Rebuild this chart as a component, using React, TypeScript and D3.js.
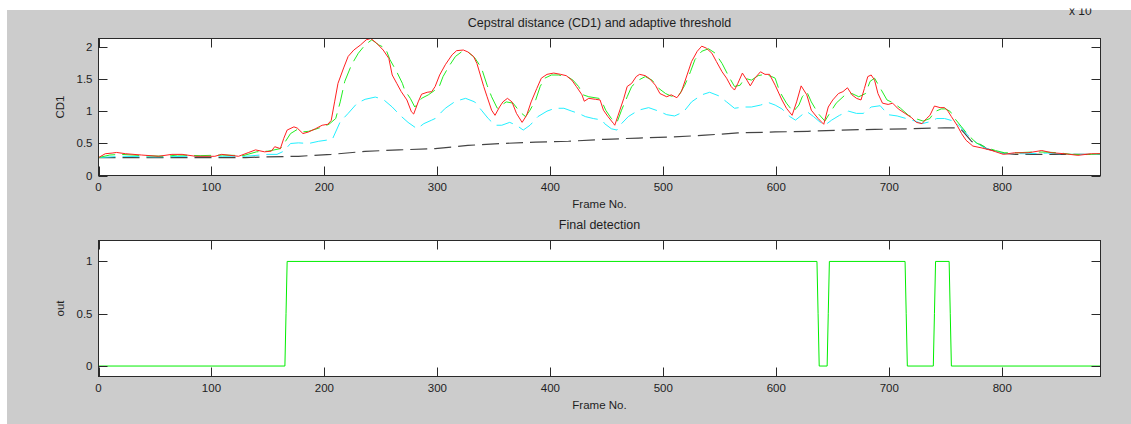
import React from "react";
import * as d3 from "d3";

// Cepstral distance CD1 (red, solid)
const cd1Frames = [0, 6, 12, 16, 24, 38, 53, 65, 74, 86, 103, 109, 124, 133, 139, 147, 153, 156, 161, 164, 167, 173, 176, 181, 186, 192, 198, 203, 206, 209, 212, 217, 221, 226, 232, 237, 241, 246, 252, 257, 260, 264, 268, 273, 277, 279, 283, 286, 291, 295, 298, 302, 307, 313, 317, 323, 327, 332, 335, 338, 341, 344, 348, 351, 355, 358, 362, 366, 370, 375, 379, 383, 388, 392, 397, 403, 409, 414, 419, 423, 428, 430, 434, 440, 444, 447, 451, 456, 457, 460, 465, 468, 472, 476, 479, 484, 488, 493, 497, 503, 507, 512, 516, 521, 525, 530, 534, 538, 543, 547, 552, 556, 560, 563, 566, 570, 574, 577, 581, 586, 590, 594, 599, 605, 609, 614, 618, 622, 627, 631, 637, 642, 646, 650, 655, 659, 663, 667, 671, 675, 678, 681, 684, 687, 690, 694, 699, 703, 708, 714, 720, 724, 729, 733, 736, 740, 745, 749, 752, 755, 760, 764, 768, 774, 782, 791, 801, 811, 823, 835, 844, 855, 867, 879, 887];
const cd1Values = [0.28, 0.34, 0.35, 0.36, 0.34, 0.32, 0.30, 0.33, 0.33, 0.30, 0.30, 0.33, 0.30, 0.36, 0.40, 0.37, 0.38, 0.45, 0.42, 0.58, 0.71, 0.76, 0.74, 0.655, 0.68, 0.73, 0.785, 0.80, 0.86, 1.15, 1.44, 1.68, 1.86, 1.96, 2.04, 2.12, 2.14, 2.07, 1.96, 1.83, 1.57, 1.44, 1.31, 1.18, 0.995, 0.96, 1.15, 1.27, 1.30, 1.31, 1.39, 1.57, 1.73, 1.885, 1.95, 1.96, 1.93, 1.86, 1.75, 1.57, 1.39, 1.23, 1.02, 0.94, 1.07, 1.15, 1.205, 1.15, 0.97, 0.83, 0.94, 1.15, 1.36, 1.52, 1.58, 1.60, 1.58, 1.56, 1.49, 1.39, 1.26, 1.16, 1.205, 1.19, 1.18, 1.02, 0.92, 0.81, 0.785, 0.94, 1.205, 1.39, 1.44, 1.545, 1.58, 1.56, 1.51, 1.41, 1.28, 1.23, 1.26, 1.215, 1.31, 1.57, 1.78, 1.94, 2.02, 1.99, 1.91, 1.78, 1.62, 1.52, 1.39, 1.335, 1.44, 1.60, 1.49, 1.40, 1.52, 1.62, 1.58, 1.58, 1.41, 1.18, 1.05, 0.94, 1.15, 1.40, 1.26, 1.02, 0.89, 0.80, 1.07, 1.18, 1.28, 1.31, 1.37, 1.26, 1.205, 1.18, 1.36, 1.545, 1.57, 1.49, 1.28, 1.13, 1.11, 1.13, 1.04, 0.97, 0.90, 0.83, 0.81, 0.89, 0.94, 1.085, 1.06, 1.06, 1.005, 0.92, 0.785, 0.655, 0.55, 0.46, 0.43, 0.39, 0.33, 0.355, 0.355, 0.39, 0.355, 0.34, 0.315, 0.34, 0.34];

// Smoothed CD1 (green, dashed)
const smoothFrames = [0, 10, 20, 40, 60, 70, 90, 110, 128, 140, 150, 161, 165, 170, 176, 180, 186, 195, 204, 210, 214, 218, 224, 230, 236, 242, 248, 254, 258, 264, 269, 271, 276, 280, 283, 286, 292, 298, 301, 305, 310, 316, 322, 327, 333, 339, 344, 348, 353, 356, 361, 367, 373, 378, 382, 387, 391, 395, 401, 407, 415, 420, 425, 429, 434, 443, 447, 449, 454, 459, 463, 468, 472, 478, 484, 490, 496, 502, 507, 513, 519, 524, 528, 534, 540, 546, 552, 558, 563, 568, 572, 578, 584, 590, 596, 599, 603, 609, 615, 620, 623, 627, 631, 637, 643, 649, 653, 661, 667, 673, 679, 683, 687, 693, 698, 704, 710, 717, 723, 730, 736, 740, 746, 750, 754, 758, 764, 770, 777, 785, 794, 802, 813, 826, 838, 850, 861, 873, 887];
const smoothValues = [0.28, 0.32, 0.33, 0.31, 0.30, 0.32, 0.31, 0.32, 0.31, 0.37, 0.38, 0.42, 0.52, 0.655, 0.72, 0.68, 0.69, 0.74, 0.80, 0.89, 1.15, 1.47, 1.73, 1.91, 2.04, 2.12, 2.04, 1.99, 1.81, 1.62, 1.44, 1.335, 1.205, 1.07, 1.13, 1.205, 1.26, 1.335, 1.36, 1.545, 1.70, 1.86, 1.94, 1.93, 1.84, 1.68, 1.41, 1.23, 1.05, 1.09, 1.15, 1.13, 0.995, 0.92, 1.02, 1.18, 1.39, 1.52, 1.57, 1.57, 1.545, 1.49, 1.39, 1.26, 1.23, 1.205, 1.10, 1.02, 0.89, 0.83, 1.02, 1.23, 1.39, 1.49, 1.545, 1.49, 1.36, 1.28, 1.24, 1.23, 1.41, 1.62, 1.81, 1.94, 1.98, 1.91, 1.75, 1.545, 1.39, 1.41, 1.52, 1.49, 1.56, 1.58, 1.545, 1.52, 1.31, 1.13, 0.995, 1.10, 1.23, 1.31, 1.15, 0.97, 0.85, 1.02, 1.13, 1.26, 1.28, 1.23, 1.28, 1.47, 1.52, 1.335, 1.18, 1.13, 1.05, 0.94, 0.89, 0.85, 0.89, 0.995, 1.04, 1.04, 1.0, 0.89, 0.76, 0.63, 0.51, 0.445, 0.39, 0.355, 0.355, 0.366, 0.366, 0.355, 0.33, 0.325, 0.34];

// Scaled-down envelope (cyan, dashed)
const lowerFrames = [0, 20, 50, 80, 110, 130, 150, 158, 164, 170, 177, 186, 195, 207, 214, 221, 229, 236, 245, 252, 260, 267, 274, 282, 288, 295, 298, 307, 316, 325, 333, 339, 345, 351, 357, 364, 370, 376, 382, 389, 397, 404, 412, 419, 425, 431, 438, 446, 448, 454, 459, 463, 469, 478, 487, 496, 503, 510, 518, 525, 534, 541, 549, 556, 563, 571, 578, 586, 593, 599, 605, 612, 617, 623, 627, 633, 639, 643, 649, 656, 664, 671, 677, 684, 692, 699, 707, 715, 723, 729, 736, 742, 749, 757, 763, 770, 778, 786, 794, 802, 820, 840, 860, 887];
const lowerValues = [0.28, 0.30, 0.29, 0.30, 0.30, 0.30, 0.33, 0.33, 0.38, 0.50, 0.51, 0.50, 0.535, 0.565, 0.84, 0.97, 1.13, 1.19, 1.225, 1.19, 1.07, 0.94, 0.83, 0.73, 0.81, 0.865, 0.89, 1.05, 1.16, 1.205, 1.15, 1.02, 0.89, 0.785, 0.785, 0.83, 0.785, 0.71, 0.785, 0.92, 1.005, 1.05, 1.05, 1.005, 0.97, 0.92, 0.89, 0.865, 0.81, 0.73, 0.71, 0.81, 0.92, 1.02, 1.06, 1.005, 0.95, 0.93, 0.995, 1.15, 1.26, 1.30, 1.245, 1.15, 1.05, 1.07, 1.07, 1.10, 1.14, 1.10, 1.04, 0.92, 0.865, 0.95, 1.0, 0.92, 0.83, 0.785, 0.865, 0.94, 1.005, 0.97, 0.97, 1.07, 1.09, 0.95, 0.93, 0.89, 0.85, 0.81, 0.84, 0.89, 0.89, 0.85, 0.76, 0.62, 0.50, 0.42, 0.38, 0.345, 0.34, 0.35, 0.33, 0.33];

// Adaptive threshold (black, dashed)
const thresholdFrames = [0, 130, 147, 177, 206, 236, 266, 298, 327, 357, 387, 416, 448, 478, 507, 537, 566, 599, 628, 658, 687, 717, 749, 758, 763, 767, 773, 779, 786, 794, 802, 812, 887];
const thresholdValues = [0.28, 0.28, 0.29, 0.30, 0.33, 0.377, 0.40, 0.42, 0.47, 0.50, 0.52, 0.535, 0.565, 0.585, 0.60, 0.63, 0.665, 0.68, 0.69, 0.71, 0.72, 0.73, 0.745, 0.745, 0.73, 0.655, 0.53, 0.50, 0.42, 0.38, 0.345, 0.33, 0.33];

// Final detection output
const detectionFrames = [0, 165, 166, 167, 636, 637, 638, 645, 646, 647, 714, 715, 716, 739, 740, 741, 753, 754, 755, 887];
const detectionValues = [0, 0, 0.5, 1, 1, 0.5, 0, 0, 0.5, 1, 1, 0.5, 0, 0, 0.5, 1, 1, 0.5, 0, 0];

const frameTicks = [0, 100, 200, 300, 400, 500, 600, 700, 800];
const cdTicks = [0, 0.5, 1, 1.5, 2];
const outTicks = [0, 0.5, 1];

const FONT = "'Liberation Sans', Arial, sans-serif";
const AXIS = "#2a2a2a";
const TEXT = "#1e1e1e";
const TICK_FONT = 11.5;

type PanelProps = {
  top: number;
  bottom: number;
  yDomain: [number, number];
  yTicks: number[];
  title: string;
  yLabel: string;
  children: (x: d3.ScaleLinear<number, number>, y: d3.ScaleLinear<number, number>) => React.ReactNode;
};

const LEFT = 98.5;
const RIGHT = 1100.5;
const TICK = 9;

function Panel({ top, bottom, yDomain, yTicks, title, yLabel, children }: PanelProps) {
  const x = d3.scaleLinear().domain([0, 887]).range([LEFT, RIGHT]);
  const y = d3.scaleLinear().domain(yDomain).range([bottom, top]);
  const fmt = (v: number) => String(v);
  return (
    <g>
      <rect x={LEFT} y={top} width={RIGHT - LEFT} height={bottom - top} fill="#ffffff" />
      <g>{children(x, y)}</g>
      <rect x={LEFT} y={top} width={RIGHT - LEFT} height={bottom - top} fill="none" stroke={AXIS} strokeWidth={1} />
      {frameTicks.map((t) => (
        <g key={"x" + t}>
          <line x1={Math.round(x(t)) + 0.5} x2={Math.round(x(t)) + 0.5} y1={bottom} y2={bottom - TICK} stroke={AXIS} />
          <line x1={Math.round(x(t)) + 0.5} x2={Math.round(x(t)) + 0.5} y1={top} y2={top + TICK} stroke={AXIS} />
          <text x={x(t)} y={bottom + 15} textAnchor="middle" fontSize={TICK_FONT} fontFamily={FONT} fill={TEXT}>
            {fmt(t)}
          </text>
        </g>
      ))}
      {yTicks.map((t) => (
        <g key={"y" + t}>
          <line x1={LEFT} x2={LEFT + TICK} y1={Math.round(y(t)) + 0.5} y2={Math.round(y(t)) + 0.5} stroke={AXIS} />
          <line x1={RIGHT} x2={RIGHT - TICK} y1={Math.round(y(t)) + 0.5} y2={Math.round(y(t)) + 0.5} stroke={AXIS} />
          <text x={LEFT - 6} y={y(t) + 4} textAnchor="end" fontSize={TICK_FONT} fontFamily={FONT} fill={TEXT}>
            {fmt(t)}
          </text>
        </g>
      ))}
      <text x={(LEFT + RIGHT) / 2} y={top - 12} textAnchor="middle" fontSize={12.5} fontFamily={FONT} fill={TEXT}>
        {title}
      </text>
      <text x={(LEFT + RIGHT) / 2} y={bottom + 32} textAnchor="middle" fontSize={TICK_FONT} fontFamily={FONT} fill={TEXT}>
        Frame No.
      </text>
      <text
        transform={`translate(64, ${(top + bottom) / 2}) rotate(-90)`}
        textAnchor="middle"
        fontSize={TICK_FONT}
        fontFamily={FONT}
        fill={TEXT}
      >
        {yLabel}
      </text>
    </g>
  );
}

function series(frames: number[], values: number[]) {
  return frames.map((f, i) => [f, values[i]] as [number, number]);
}

export default function App() {
  const path = (x: d3.ScaleLinear<number, number>, y: d3.ScaleLinear<number, number>) =>
    d3
      .line<[number, number]>()
      .x((d) => x(d[0]))
      .y((d) => y(d[1]));

  return (
    <svg width={1131} height={424} style={{ position: "absolute", left: 0, top: 0 }}>
      <rect x={0} y={0} width={1131} height={424} fill="#ffffff" />
      <rect x={7} y={10} width={1124} height={414} fill="#cccccc" />

      <Panel top={38.5} bottom={175.5} yDomain={[0, 2.14]} yTicks={cdTicks} title="Cepstral distance (CD1) and adaptive threshold" yLabel="CD1">
        {(x, y) => {
          const line = path(x, y);
          return (
            <>
              <path d={line(series(thresholdFrames, thresholdValues)) ?? ""} fill="none" stroke="#444444" strokeWidth={1.2} strokeDasharray="17,7" />
              <path d={line(series(lowerFrames, lowerValues)) ?? ""} fill="none" stroke="#22f0ff" strokeWidth={1} strokeDasharray="17,7" />
              <path d={line(series(smoothFrames, smoothValues)) ?? ""} fill="none" stroke="#22ee22" strokeWidth={1} strokeDasharray="17,7" />
              <path d={line(series(cd1Frames, cd1Values)) ?? ""} fill="none" stroke="#ff2020" strokeWidth={1} />
            </>
          );
        }}
      </Panel>

      <Panel top={240.5} bottom={376.5} yDomain={[-0.1, 1.2]} yTicks={outTicks} title="Final detection" yLabel="out">
        {(x, y) => {
          const line = path(x, y);
          return <path d={line(series(detectionFrames, detectionValues)) ?? ""} fill="none" stroke="#00ee00" strokeWidth={1} />;
        }}
      </Panel>

      <text x={1069} y={15} fontSize={12} fontFamily={FONT} fill={TEXT}>
        x 10
      </text>
      <rect x={1060} y={0} width={50} height={8.5} fill="#ffffff" />
    </svg>
  );
}
